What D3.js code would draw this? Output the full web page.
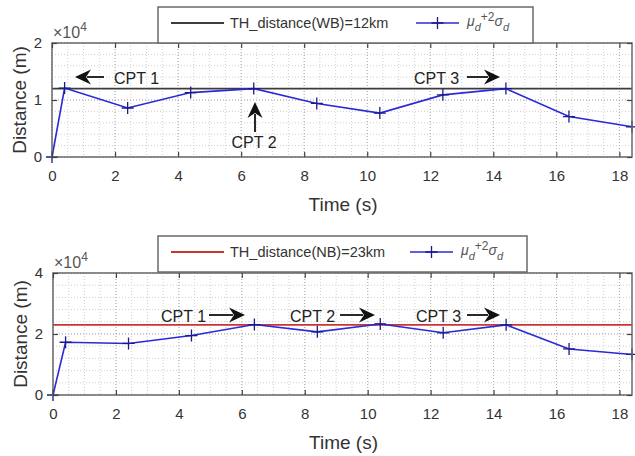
<!DOCTYPE html>
<html>
<head>
<meta charset="utf-8">
<script src="https://cdn.jsdelivr.net/npm/d3@7"></script>
<style>
  body { margin: 0; background: #fff; }
  text { font-family: "Liberation Sans", Arial, sans-serif; }
</style>
</head>
<body>
<div id="chart-area"></div>
<script>
// data
var times = [0, 0.4, 2.4, 4.4, 6.4, 8.4, 10.4, 12.4, 14.4, 16.4, 18.4]
var wbDist = [0, 12100, 8600, 11300, 12000, 9400, 7700, 10900, 12000, 7100, 5300]
var nbDist = [0, 17300, 16900, 19500, 23100, 20700, 23300, 20400, 23000, 15100, 13300]
var wbThreshold = 12000
var nbThreshold = 23000
var xTicks = [0, 2, 4, 6, 8, 10, 12, 14, 16, 18]
var wbTicks = [0, 10000, 20000]
var nbTicks = [0, 20000, 40000]

var width = 635
var height = 456

var svg = d3.select("#chart-area").append("svg")
  .attr("width", width)
  .attr("height", height)

var blue = "#2a2ad6"
var axisColor = "#6a6a6a"
var textColor = "#333"

// filled arrowhead with a shaft, like MATLAB's annotation arrow
const arrow = (g, x1, y1, x2, y2) => {
  var ang = Math.atan2(y2 - y1, x2 - x1)
  var len = 16, half = 7.5
  var bx = x2 - len * Math.cos(ang), by = y2 - len * Math.sin(ang)
  g.append("line")
    .attr("x1", x1).attr("y1", y1)
    .attr("x2", bx + 4 * Math.cos(ang)).attr("y2", by + 4 * Math.sin(ang))
    .attr("stroke", "#111").attr("stroke-width", 1.8)
  var px = -Math.sin(ang), py = Math.cos(ang)
  var nx = x2 - 11 * Math.cos(ang), ny = y2 - 11 * Math.sin(ang)
  g.append("path")
    .attr("d", "M" + x2 + "," + y2 +
      "L" + (bx + half * px) + "," + (by + half * py) +
      "L" + nx + "," + ny +
      "L" + (bx - half * px) + "," + (by - half * py) + "Z")
    .attr("fill", "#111")
}

const panel = (cfg) => {
  var x = d3.scaleLinear().domain([0, 18.4]).range([cfg.left, cfg.right])
  var y = d3.scaleLinear().domain([0, cfg.yTicks[2]]).range([cfg.bottom, cfg.top])
  var g = svg.append("g")

  // minor grid
  var xMinor = d3.range(0, 18.4 + 1e-9, 0.5)
  var yMinor = d3.range(0, cfg.yTicks[2] + 1, cfg.yTicks[1] / 5)
  g.selectAll(".xminor").data(xMinor).enter().append("line")
    .attr("x1", d => x(d)).attr("x2", d => x(d))
    .attr("y1", cfg.top).attr("y2", cfg.bottom)
    .attr("stroke", "#cfcfcf").attr("stroke-dasharray", "1,2")
  g.selectAll(".yminor").data(yMinor).enter().append("line")
    .attr("x1", cfg.left).attr("x2", cfg.right)
    .attr("y1", d => y(d)).attr("y2", d => y(d))
    .attr("stroke", "#cfcfcf").attr("stroke-dasharray", "1,2")
  // major grid
  g.selectAll(".xmajor").data(xTicks).enter().append("line")
    .attr("x1", d => x(d)).attr("x2", d => x(d))
    .attr("y1", cfg.top).attr("y2", cfg.bottom)
    .attr("stroke", "#b0b0b0").attr("stroke-dasharray", "1,2")
  g.selectAll(".ymajor").data(cfg.yTicks).enter().append("line")
    .attr("x1", cfg.left).attr("x2", cfg.right)
    .attr("y1", d => y(d)).attr("y2", d => y(d))
    .attr("stroke", "#b0b0b0").attr("stroke-dasharray", "1,2")

  // threshold line
  g.append("line")
    .attr("x1", cfg.left).attr("x2", cfg.right)
    .attr("y1", y(cfg.threshold)).attr("y2", y(cfg.threshold))
    .attr("stroke", cfg.thColor).attr("stroke-width", 1.8)

  // series
  var line = d3.line().x(d => x(d[0])).y(d => y(d[1]))
  var pts = times.map((t, i) => [t, cfg.values[i]])
  g.append("path").datum(pts)
    .attr("d", line)
    .attr("fill", "none")
    .attr("stroke", blue)
    .attr("stroke-width", 1.6)
  g.selectAll(".mk").data(pts).enter().append("path")
    .attr("d", d => "M" + (x(d[0]) - 6) + "," + y(d[1]) + "h12M" + x(d[0]) + "," + (y(d[1]) - 6) + "v12")
    .attr("stroke", "#1a1a8a").attr("stroke-width", 1.3)

  // axes box
  g.append("rect")
    .attr("x", cfg.left).attr("y", cfg.top)
    .attr("width", cfg.right - cfg.left).attr("height", cfg.bottom - cfg.top)
    .attr("fill", "none").attr("stroke", axisColor).attr("stroke-width", 1.5)

  var xAxisCall = d3.axisBottom(x).tickValues(xTicks).tickSize(-5).tickPadding(13)
  var xTop = d3.axisTop(x).tickValues(xTicks).tickSize(-5).tickFormat("")
  var yAxisCall = d3.axisLeft(y).tickValues(cfg.yTicks).tickSize(-5).tickPadding(10)
    .tickFormat(d => d / 10000)
  var yRight = d3.axisRight(y).tickValues(cfg.yTicks).tickSize(-5).tickFormat("")

  var axes = [
    g.append("g").attr("transform", "translate(0," + cfg.bottom + ")").call(xAxisCall),
    g.append("g").attr("transform", "translate(0," + cfg.top + ")").call(xTop),
    g.append("g").attr("transform", "translate(" + cfg.left + ",0)").call(yAxisCall),
    g.append("g").attr("transform", "translate(" + cfg.right + ",0)").call(yRight)
  ]
  axes.forEach(a => {
    a.select(".domain").remove()
    a.selectAll(".tick line").attr("stroke", "#444").attr("stroke-width", 1.2)
    a.selectAll(".tick text").attr("fill", textColor).attr("font-size", "15px")
      .attr("font-family", "Liberation Sans, Arial, sans-serif")
  })

  // exponent
  var ex = g.append("text").attr("x", cfg.left + 1).attr("y", cfg.top - 5)
    .attr("fill", "#555").attr("font-size", "16px")
  ex.append("tspan").text("\u00d710")
  ex.append("tspan").attr("dy", -7).attr("font-size", "12px").text("4")

  // axis labels
  g.append("text")
    .attr("transform", "translate(" + (cfg.left - 26) + "," + ((cfg.top + cfg.bottom) / 2) + ") rotate(-90)")
    .attr("text-anchor", "middle")
    .attr("fill", textColor).attr("font-size", "19px")
    .text("Distance (m)")
  g.append("text")
    .attr("x", (cfg.left + cfg.right) / 2 + 1).attr("y", cfg.bottom + 54)
    .attr("text-anchor", "middle")
    .attr("fill", textColor).attr("font-size", "19px")
    .text("Time (s)")

  // legend
  var lg = g.append("g")
  lg.append("rect")
    .attr("x", cfg.legend[0]).attr("y", cfg.legend[1])
    .attr("width", cfg.legend[2]).attr("height", 36)
    .attr("fill", "#fff").attr("stroke", axisColor).attr("stroke-width", 1.5)
  var ly = cfg.legend[1] + 16
  lg.append("line")
    .attr("x1", cfg.legend[0] + 13).attr("x2", cfg.legend[0] + 66)
    .attr("y1", ly).attr("y2", ly)
    .attr("stroke", cfg.thColor).attr("stroke-width", 1.8)
  lg.append("text")
    .attr("x", cfg.legend[0] + 72).attr("y", ly + 5)
    .attr("fill", textColor).attr("font-size", "14.5px")
    .text(cfg.thLabel)
  var bx = cfg.legend[0] + cfg.legend[2] - 117
  lg.append("line")
    .attr("x1", bx).attr("x2", bx + 43)
    .attr("y1", ly).attr("y2", ly)
    .attr("stroke", blue).attr("stroke-width", 1.4)
  lg.append("path")
    .attr("d", "M" + (bx + 15.5) + "," + ly + "h12M" + (bx + 21.5) + "," + (ly - 6) + "v12")
    .attr("stroke", "#1a1a8a").attr("stroke-width", 1.3)
  var mt = lg.append("text")
    .attr("x", bx + 51).attr("y", ly + 3)
    .attr("fill", "#555").attr("font-size", "14px").attr("font-style", "italic")
  mt.append("tspan").text("\u03bc")
  mt.append("tspan").attr("dy", 5).attr("font-size", "11px").text("d")
  mt.append("tspan").attr("dy", -10).attr("font-size", "12px").attr("font-style", "normal").text("+2")
  mt.append("tspan").attr("dy", 5).attr("font-size", "14px").text("\u03c3")
  mt.append("tspan").attr("dy", 5).attr("font-size", "11px").text("d")

  return {x: x, y: y, g: g}
}

var topPanel = panel({
  left: 52, right: 632, top: 43, bottom: 157,
  yTicks: wbTicks, values: wbDist, threshold: wbThreshold,
  thColor: "#3c3c3c", thLabel: "TH_distance(WB)=12km",
  legend: [158, 7, 375]
})
var botPanel = panel({
  left: 53, right: 632, top: 273, bottom: 395,
  yTicks: nbTicks, values: nbDist, threshold: nbThreshold,
  thColor: "#cc3333", thLabel: "TH_distance(NB)=23km",
  legend: [158, 236, 369]
})

// annotations
const label = (g, x, y, s, anchor) => g.append("text")
  .attr("x", x).attr("y", y).attr("text-anchor", anchor || "start")
  .attr("fill", "#222").attr("font-size", "16px").text(s)

label(topPanel.g, 114, 84, "CPT 1")
arrow(topPanel.g, 104, 77, 75, 77)
label(topPanel.g, 254, 148, "CPT 2", "middle")
arrow(topPanel.g, 255, 132, 255, 102)
label(topPanel.g, 414, 84, "CPT 3")
arrow(topPanel.g, 467, 77, 500, 77)

label(botPanel.g, 161, 322, "CPT 1")
arrow(botPanel.g, 209, 315, 245, 315)
label(botPanel.g, 290, 322, "CPT 2")
arrow(botPanel.g, 340, 315, 375, 315)
label(botPanel.g, 416, 322, "CPT 3")
arrow(botPanel.g, 467, 315, 500, 315)
</script>
</body>
</html>
